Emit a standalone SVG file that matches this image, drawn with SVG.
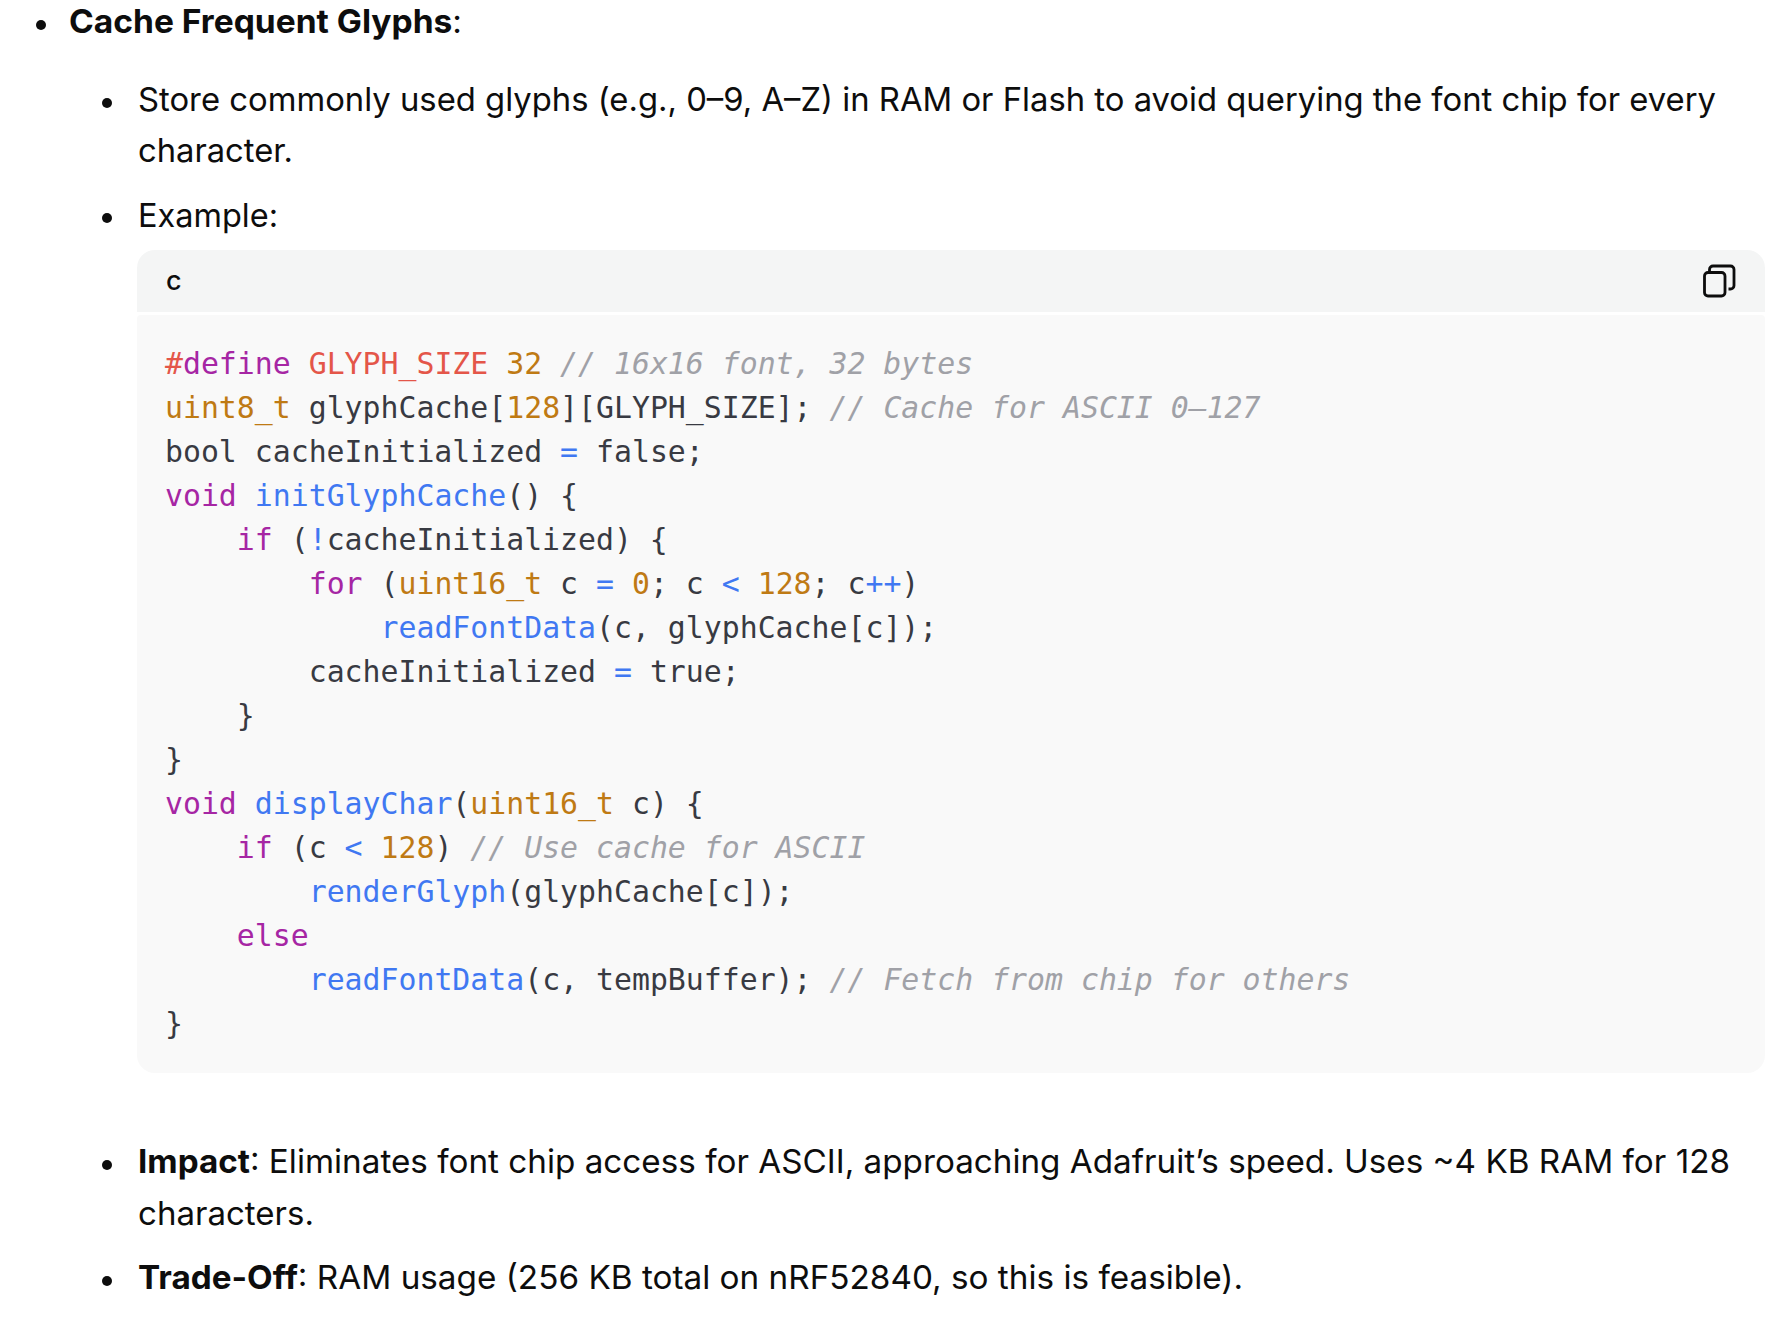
<svg xmlns="http://www.w3.org/2000/svg" width="1788" height="1322" viewBox="0 0 1788 1322">
<style>
.t{font-family:Inter,"Liberation Sans",Arial,sans-serif;font-size:33px;fill:#0d0d0d}
.b{font-weight:700}
.cd{font-family:"DejaVu Sans Mono","Liberation Mono",monospace;font-size:29.83px;fill:#383a42}
.k{fill:#a626a4}
.f{fill:#4078f2}
.n{fill:#bf7a14}
.r{fill:#e45649}
.c{fill:#a0a1a7;font-style:italic}
.dot{fill:#0d0d0d}
</style>
<rect width="1788" height="1322" fill="#ffffff"/>
<g id="heading">
<circle class="dot" cx="41" cy="25" r="5"/>
<text class="t" x="69" y="33" textLength="393" lengthAdjust="spacingAndGlyphs"><tspan class="b">Cache Frequent Glyphs</tspan>:</text>
</g>
<g id="bullet-store">
<circle class="dot" cx="107" cy="103" r="5"/>
<text class="t" x="138" y="111" textLength="1578" lengthAdjust="spacingAndGlyphs">Store commonly used glyphs (e.g., 0–9, A–Z) in RAM or Flash to avoid querying the font chip for every</text>
<text class="t" x="138" y="162" textLength="155" lengthAdjust="spacingAndGlyphs">character.</text>
</g>
<g id="bullet-example">
<circle class="dot" cx="107" cy="218" r="5"/>
<text class="t" x="138" y="227" textLength="140" lengthAdjust="spacingAndGlyphs">Example:</text>
</g>
<g id="code-block">
<path d="M137 312 V268 A18 18 0 0 1 155 250 H1747 A18 18 0 0 1 1765 268 V312 Z" fill="#f4f5f5"/>
<path d="M137 1055 V319 A4 4 0 0 1 141 315 H1761 A4 4 0 0 1 1765 319 V1055 A18 18 0 0 1 1747 1073 H155 A18 18 0 0 1 137 1055 Z" fill="#f9f9f9"/>
<text x="166" y="290" style="font-family:Inter,'Liberation Sans',Arial,sans-serif;font-size:27px;font-weight:500;fill:#0d0d0d">c</text>
<g id="copy-icon" fill="none" stroke="#0d0d0d" stroke-width="2.8" stroke-linejoin="round">
<rect x="1704.5" y="272.5" width="20.5" height="23.5" rx="3.5"/>
<path d="M1709.5 271 V269.5 A3.5 3.5 0 0 1 1713 266 H1730.5 A3.5 3.5 0 0 1 1734 269.5 V285.5 A3.5 3.5 0 0 1 1730.5 289 H1728.5"/>
</g>
<g id="code">
<text class="cd" y="374"><tspan class="r" x="165">#</tspan><tspan class="k" x="182.96">define</tspan><tspan class="r" x="308.68">GLYPH_SIZE</tspan><tspan class="n" x="506.24">32</tspan><tspan class="c" x="560.12">// 16x16 font, 32 bytes</tspan></text>
<text class="cd" y="418"><tspan class="n" x="165">uint8_t</tspan><tspan x="308.68">glyphCache[</tspan><tspan class="n" x="506.24">128</tspan><tspan x="560.12">][GLYPH_SIZE];</tspan><tspan class="c" x="829.52">// Cache for ASCII 0–127</tspan></text>
<text class="cd" y="462"><tspan x="165">bool cacheInitialized</tspan><tspan class="f" x="560.12">=</tspan><tspan x="596.04">false;</tspan></text>
<text class="cd" y="506"><tspan class="k" x="165">void</tspan><tspan class="f" x="254.8">initGlyphCache</tspan><tspan x="506.24">() {</tspan></text>
<text class="cd" y="550"><tspan class="k" x="236.84">if</tspan><tspan x="290.72">(</tspan><tspan class="f" x="308.68">!</tspan><tspan x="326.64">cacheInitialized) {</tspan></text>
<text class="cd" y="594"><tspan class="k" x="308.68">for</tspan><tspan x="380.52">(</tspan><tspan class="n" x="398.48">uint16_t</tspan><tspan x="560.12">c</tspan><tspan class="f" x="596.04">=</tspan><tspan class="n" x="631.96">0</tspan><tspan x="649.92">; c</tspan><tspan class="f" x="721.76">&lt;</tspan><tspan class="n" x="757.68">128</tspan><tspan x="811.56">; c</tspan><tspan class="f" x="865.44">++</tspan><tspan x="901.36">)</tspan></text>
<text class="cd" y="638"><tspan class="f" x="380.52">readFontData</tspan><tspan x="596.04">(c, glyphCache[c]);</tspan></text>
<text class="cd" y="682"><tspan x="308.68">cacheInitialized</tspan><tspan class="f" x="614">=</tspan><tspan x="649.92">true;</tspan></text>
<text class="cd" y="726"><tspan x="236.84">}</tspan></text>
<text class="cd" y="770"><tspan x="165">}</tspan></text>
<text class="cd" y="814"><tspan class="k" x="165">void</tspan><tspan class="f" x="254.8">displayChar</tspan><tspan x="452.36">(</tspan><tspan class="n" x="470.32">uint16_t</tspan><tspan x="631.96">c) {</tspan></text>
<text class="cd" y="858"><tspan class="k" x="236.84">if</tspan><tspan x="290.72">(c</tspan><tspan class="f" x="344.6">&lt;</tspan><tspan class="n" x="380.52">128</tspan><tspan x="434.4">)</tspan><tspan class="c" x="470.32">// Use cache for ASCII</tspan></text>
<text class="cd" y="902"><tspan class="f" x="308.68">renderGlyph</tspan><tspan x="506.24">(glyphCache[c]);</tspan></text>
<text class="cd" y="946"><tspan class="k" x="236.84">else</tspan></text>
<text class="cd" y="990"><tspan class="f" x="308.68">readFontData</tspan><tspan x="524.2">(c, tempBuffer);</tspan><tspan class="c" x="829.52">// Fetch from chip for others</tspan></text>
<text class="cd" y="1034"><tspan x="165">}</tspan></text>
</g>
</g>
<g id="bullet-impact">
<circle class="dot" cx="107" cy="1165" r="5"/>
<text class="t" x="138" y="1173" textLength="1592" lengthAdjust="spacingAndGlyphs"><tspan class="b">Impact</tspan>: Eliminates font chip access for ASCII, approaching Adafruit’s speed. Uses ~4 KB RAM for 128</text>
<text class="t" x="138" y="1225" textLength="176" lengthAdjust="spacingAndGlyphs">characters.</text>
</g>
<g id="bullet-tradeoff">
<circle class="dot" cx="107" cy="1281" r="5"/>
<text class="t" x="138" y="1289" textLength="1105" lengthAdjust="spacingAndGlyphs"><tspan class="b">Trade-Off</tspan>: RAM usage (256 KB total on nRF52840, so this is feasible).</text>
</g>
</svg>
